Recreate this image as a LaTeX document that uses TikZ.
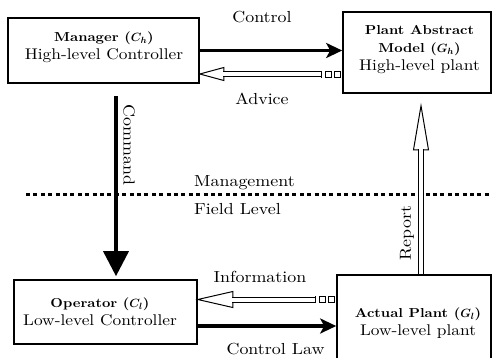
\documentclass[tikz,border=0pt]{standalone}
\usepackage{fontspec}
\setmainfont{lmroman10-regular}[Extension=.otf, BoldFont=lmroman10-bold, ItalicFont=lmroman10-italic, BoldItalicFont=lmroman10-bolditalic, FakeStretch=1.12]
\usetikzlibrary{arrows.meta, calc}

% bold heading line inside a box
\newcommand{\BoxHead}[1]{{\fontsize{13}{18}\selectfont\bfseries\boldmath #1}}
% open (outlined) arrow: #1 start, #2 tip, #3 head length, #4 head half width
\newcommand{\HollowArrow}[4]{%
	\path (#2) coordinate (hatip) ($(#2)!#3!(#1)$) coordinate (haback);
	\draw [line width=1pt, fill=white] (hatip) -- ($(haback)!#4!90:(hatip)$) -- ($(haback)!#4!-90:(hatip)$) -- cycle;
	\draw [hollow shaft] (#1) -- ($(haback)!0.5pt!(hatip)$);
}
% broken tail of an open arrow, drawn leftwards from a box edge
\newcommand{\HollowTail}[1]{%
	\draw [line width=1pt] ([xshift=-1.5pt,yshift=-3pt]#1) rectangle ++(-6pt,6pt);
	\draw [line width=1pt] ([xshift=-10.5pt,yshift=-3pt]#1) rectangle ++(-6pt,6pt);
	\draw [line width=1pt] ([xshift=-21pt,yshift=-3.5pt]#1) -- ++(0,7pt);
}

\begin{document}
\begin{tikzpicture}[x=1pt, y=-1pt,
		box/.style = {draw, line width=1.6pt, inner sep=0pt},
		boxtext/.style = {align=center, font=\fontsize{15.5}{18}\selectfont},
		lbl/.style = {inner sep=1pt, font=\fontsize{16}{19}\selectfont},
		solid arrow/.style = {line width=3.5pt, -{Stealth[length=16pt, width=15pt, inset=4pt]}},
		cmd arrow/.style = {line width=3.5pt, -{Triangle[length=25pt, width=25pt]}, shorten >=3pt},
		hollow shaft/.style = {line width=1pt, double=white, double distance=4pt},
		level line/.style = {line width=3pt, dash pattern=on 4pt off 3.4pt}]
	\useasboundingbox (0,0) rectangle (492,357);
	\clip (0,0) rectangle (492,357);
	
	% boxes
	\node [box, minimum width=191pt, minimum height=65pt] (manager) at (103.5,50.5) {};
	\node [box, minimum width=148pt, minimum height=81pt] (abstract) at (417,52.5) {};
	\node [box, minimum width=183pt, minimum height=64pt] (operator) at (105.5,312) {};
	\node [box, minimum width=154pt, minimum height=96pt] (actual) at (414,323) {};
	
	\node [boxtext] (managertext) at (104,47) {\BoxHead{Manager ($C_h$)}\\High-level Controller};
	\node [boxtext] (abstracttext) at (419.5,49.5) {\BoxHead{Plant Abstract}\\\BoxHead{Model ($G_h$)}\\High-level plant};
	\node [boxtext] (operatortext) at (100,311.5) {\BoxHead{Operator ($C_l$)}\\Low-level Controller};
	\node [boxtext] (actualtext) at (418,323) {\BoxHead{Actual Plant ($G_l$)}\\Low-level plant};
	
	% management / field level split
	\coordinate (levelL) at (26,194);
	\coordinate (levelR) at (492,194);
	\draw [level line] (levelL) -- (levelR);
	
	% upper level
	\draw [solid arrow] (manager.east) -- (manager.east -| abstract.west);
	\coordinate (advtip) at ([yshift=-23.5pt]manager.east);
	\coordinate (advbox) at (advtip -| abstract.west);
	\HollowTail{advbox}
	\HollowArrow{[xshift=-21pt]advbox}{advtip}{24pt}{6.5pt}
	
	% between levels
	\coordinate (cmdtop) at ([xshift=12.5pt, yshift=-12pt]manager.south);
	\draw [cmd arrow] (cmdtop) -- (cmdtop |- operator.north);
	\coordinate (repbase) at ([xshift=7pt]actual.north);
	\coordinate (reptip) at ([yshift=-12pt]repbase |- abstract.south);
	\HollowArrow{repbase}{reptip}{44pt}{7.5pt}
	
	% lower level
	\coordinate (infotip) at ([yshift=12.5pt]operator.east);
	\coordinate (infobox) at (infotip -| actual.west);
	\HollowTail{infobox}
	\HollowArrow{[xshift=-21pt]infobox}{infotip}{35pt}{8pt}
	\draw [solid arrow] ([yshift=-14pt]operator.east) -- ([yshift=-14pt]operator.east -| actual.west);
	
	% labels
	\node [lbl] (control) at (262,17.5) {Control};
	\node [lbl] (advice) at (262,99) {Advice};
	\node [lbl, anchor=west] (management) at (193,183) {Management};
	\node [lbl, anchor=west] (field) at (193,209) {Field Level};
	\node [lbl] (information) at (260,277) {Information};
	\node [lbl] (controllaw) at (275.5,349) {Control Law};
	\node [lbl, rotate=-90] (command) at (129,145) {Command};
	\node [lbl, rotate=90] (report) at (407,233) {Report};
\end{tikzpicture}
\end{document}
